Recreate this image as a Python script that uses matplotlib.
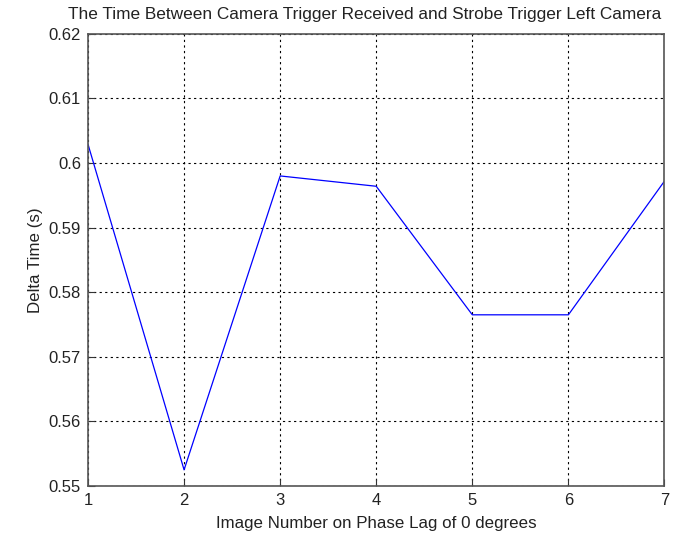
import matplotlib
matplotlib.use('Agg')
import matplotlib.pyplot as plt

plt.rcParams['font.family'] = ['Liberation Sans', 'DejaVu Sans']

image_num = [1, 2, 3, 4, 5, 6, 7]
delta_time = [0.6029, 0.5525, 0.5980, 0.5964, 0.5765, 0.5765, 0.5972]

fig = plt.figure(figsize=(6.79, 5.37), dpi=100)
ax = fig.add_axes([0.1296, 0.095, 0.849, 0.842])
ax.plot(image_num, delta_time, color='blue', linewidth=0.9)
ax.set_xlim(1, 7)
ax.set_ylim(0.55, 0.62)
ax.set_xticks(image_num)
ax.set_yticks([0.55, 0.56, 0.57, 0.58, 0.59, 0.6, 0.61, 0.62])
ax.set_yticklabels(['0.55', '0.56', '0.57', '0.58', '0.59', '0.6', '0.61', '0.62'])
ax.grid(True, color='black', linestyle=(0, (2, 3)), linewidth=0.8)
ax.tick_params(direction='in', labelsize=12, length=5, pad=5, colors='#333333', labelcolor='#222222')
for s in ax.spines.values():
    s.set_color('#555555')
    s.set_linewidth(1.2)
ax.set_title('The Time Between Camera Trigger Received and Strobe Trigger Left Camera',
             fontsize=12.4, pad=11, x=0.48, color='#222222')
ax.set_xlabel('Image Number on Phase Lag of 0 degrees', fontsize=12.2, labelpad=6, color='#222222')
ax.set_ylabel('Delta Time (s)', fontsize=12.2, labelpad=4, color='#222222')
fig.savefig('out.png', dpi=100)
